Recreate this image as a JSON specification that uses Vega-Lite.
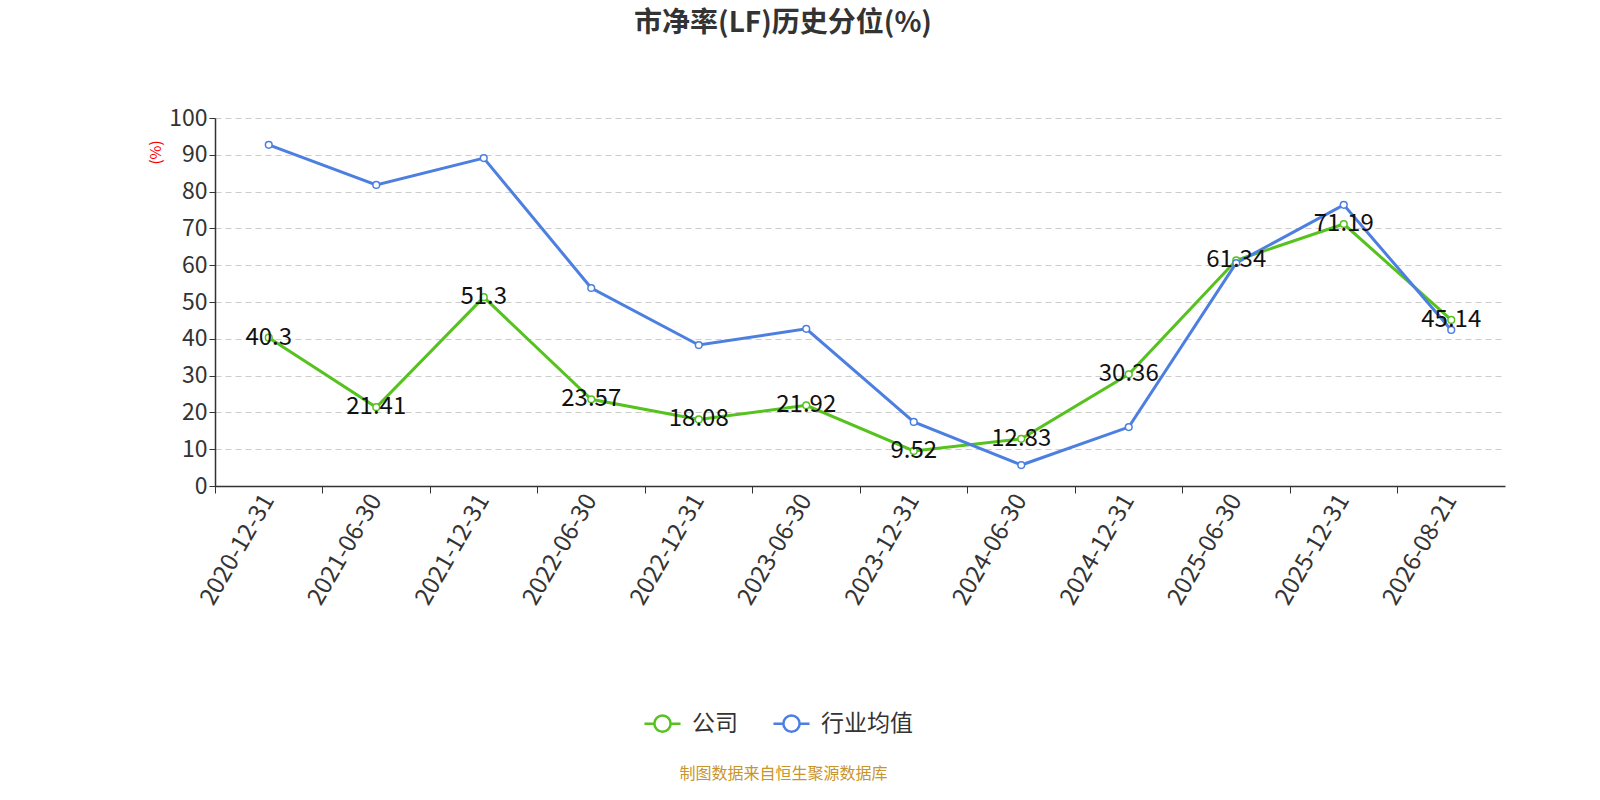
{
  "$schema": "https://vega.github.io/schema/vega-lite/v6.json",
  "width": 1290,
  "height": 368,
  "autosize": "none",
  "padding": {"left": 215, "top": 118, "right": 95, "bottom": 314},
  "background": "white",
  "view": {"stroke": null},
  "config": {
    "font": "Noto Sans CJK SC",
    "axis": {"labelFont": "Noto Sans CJK SC", "titleFont": "Noto Sans CJK SC"}
  },
  "title": {
    "text": "市净率(LF)历史分位(%)",
    "anchor": "middle",
    "dx": -77,
    "fontSize": 28,
    "fontWeight": "bold",
    "color": "#333333",
    "offset": 69
  },
  "data": {
    "values": [
      {"date": "2020-12-31", "series": "公司", "value": 40.3},
      {"date": "2021-06-30", "series": "公司", "value": 21.41},
      {"date": "2021-12-31", "series": "公司", "value": 51.3},
      {"date": "2022-06-30", "series": "公司", "value": 23.57},
      {"date": "2022-12-31", "series": "公司", "value": 18.08},
      {"date": "2023-06-30", "series": "公司", "value": 21.92},
      {"date": "2023-12-31", "series": "公司", "value": 9.52},
      {"date": "2024-06-30", "series": "公司", "value": 12.83},
      {"date": "2024-12-31", "series": "公司", "value": 30.36},
      {"date": "2025-06-30", "series": "公司", "value": 61.34},
      {"date": "2025-12-31", "series": "公司", "value": 71.19},
      {"date": "2026-08-21", "series": "公司", "value": 45.14},
      {"date": "2020-12-31", "series": "行业均值", "value": 92.7},
      {"date": "2021-06-30", "series": "行业均值", "value": 81.8},
      {"date": "2021-12-31", "series": "行业均值", "value": 89.1},
      {"date": "2022-06-30", "series": "行业均值", "value": 53.8},
      {"date": "2022-12-31", "series": "行业均值", "value": 38.3},
      {"date": "2023-06-30", "series": "行业均值", "value": 42.7},
      {"date": "2023-12-31", "series": "行业均值", "value": 17.4},
      {"date": "2024-06-30", "series": "行业均值", "value": 5.7},
      {"date": "2024-12-31", "series": "行业均值", "value": 16.0},
      {"date": "2025-06-30", "series": "行业均值", "value": 60.6},
      {"date": "2025-12-31", "series": "行业均值", "value": 76.4},
      {"date": "2026-08-21", "series": "行业均值", "value": 42.4}
    ]
  },
  "encoding": {
    "x": {"field": "date", "type": "ordinal", "scale": {"type": "band", "paddingInner": 0, "paddingOuter": 0}},
    "y": {
      "field": "value",
      "type": "quantitative",
      "scale": {"domain": [0, 100], "nice": false},
      "axis": {
        "values": [0, 10, 20, 30, 40, 50, 60, 70, 80, 90, 100],
        "title": "(%)",
        "titleColor": "red",
        "titleFontSize": 15,
        "titleFontWeight": "normal",
        "titleAngle": -90,
        "titleX": -60,
        "titleY": 34,
        "titleAlign": "center",
        "titleBaseline": "middle",
        "labelFontSize": 23,
        "labelColor": "#333333",
        "labelPadding": 2,
        "tickSize": 6,
        "tickColor": "#333333",
        "domainColor": "#333333",
        "domainWidth": 1.5,
        "grid": true,
        "gridColor": "#cccccc",
        "gridDash": [6, 4],
        "gridWidth": 1.2
      }
    }
  },
  "layer": [
    {
      "mark": {
        "type": "line",
        "strokeWidth": 3,
        "point": {"filled": false, "fill": "white", "size": 45, "strokeWidth": 1.5}
      },
      "encoding": {
        "x": {
          "field": "date",
          "type": "ordinal",
          "axis": {
            "orient": "bottom",
            "labels": false,
            "title": null,
            "bandPosition": 0,
            "tickSize": 7,
            "tickColor": "#333333",
            "domainColor": "#333333",
            "domainWidth": 1.5,
            "grid": false
          }
        },
        "color": {
          "field": "series",
          "type": "nominal",
          "scale": {"domain": ["公司", "行业均值"], "range": ["#55C21E", "#4C7FE0"]},
          "legend": {
            "orient": "none",
            "direction": "horizontal",
            "legendX": 428,
            "legendY": 586,
            "title": null,
            "labelFontSize": 23,
            "labelColor": "#333333",
            "labelFont": "Noto Sans CJK SC",
            "symbolType": "M-1,0L-0.45,0M0.45,0L1,0M0.45,0A0.45,0.45 0 1,1 -0.45,0A0.45,0.45 0 1,1 0.45,0",
            "symbolSize": 1300,
            "symbolStrokeWidth": 2.5,
            "symbolFillColor": "white",
            "columnPadding": 30,
            "labelOffset": 10
          }
        }
      }
    },
    {
      "transform": [{"filter": "datum.series === '公司'"}],
      "mark": {"type": "text", "fontSize": 24, "color": "#111111", "baseline": "middle", "align": "center"},
      "encoding": {
        "x": {
          "field": "date",
          "type": "ordinal",
          "axis": {
            "orient": "bottom",
            "labelAngle": -60,
            "labelFontSize": 24,
            "labelColor": "#333333",
            "labelPadding": 10,
            "ticks": false,
            "domain": false,
            "grid": false,
            "title": "制图数据来自恒生聚源数据库",
            "titleFontSize": 16,
            "titleFontWeight": "normal",
            "titleColor": "#C8952A",
            "titleX": 568,
            "titleY": 287,
            "titleAlign": "center",
            "titleBaseline": "middle"
          }
        },
        "text": {"field": "value", "type": "quantitative"}
      }
    }
  ],
  "resolve": {"axis": {"x": "independent"}}
}
